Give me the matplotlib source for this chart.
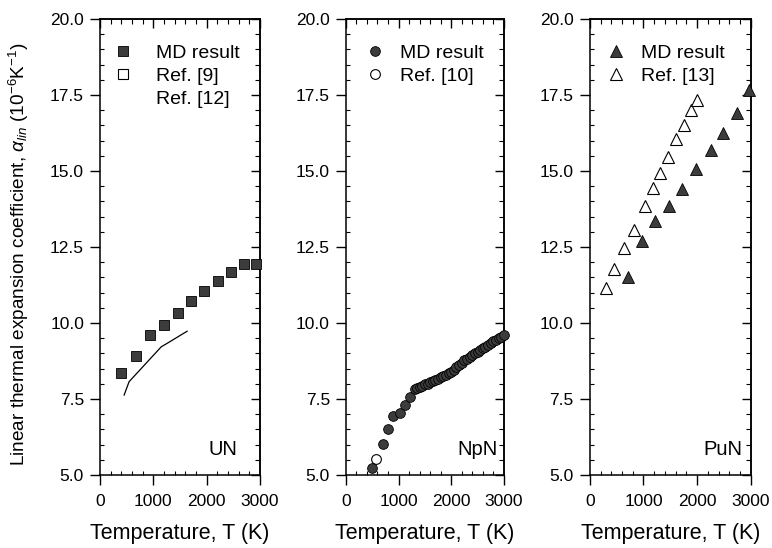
import matplotlib
matplotlib.use("Agg")
import matplotlib.pyplot as plt
from matplotlib.ticker import MultipleLocator, FormatStrFormatter, NullFormatter
from matplotlib.lines import Line2D

plt.rcParams['font.family'] = ['Liberation Sans', 'DejaVu Sans']
plt.rcParams['mathtext.fontset'] = 'custom'
plt.rcParams['mathtext.rm'] = 'Liberation Sans'
plt.rcParams['mathtext.it'] = 'Liberation Sans:italic'

# UN
un_md_T = [385, 671, 932, 1199, 1460, 1714, 1957, 2212, 2460, 2702, 2920]
un_md_a = [8.37, 8.93, 9.60, 9.94, 10.32, 10.72, 11.04, 11.37, 11.68, 11.93, 11.93]
un_ref12_T = [453, 546, 1150, 1230, 1634]
un_ref12_a = [7.63, 8.07, 9.22, 9.30, 9.73]

# NpN
npn_md_T = [491, 701, 797, 904, 1019, 1114, 1223, 1318, 1350, 1400, 1450, 1500,
            1550, 1600, 1650, 1700, 1750, 1800, 1850, 1900, 1950, 2000, 2050,
            2100, 2150, 2200, 2250, 2300, 2350, 2400, 2450, 2500, 2550, 2600,
            2650, 2700, 2750, 2800, 2850, 2900, 2950, 3000]
npn_md_a = [5.22, 6.01, 6.51, 6.94, 7.03, 7.30, 7.56, 7.82, 7.86, 7.90, 7.94, 7.98,
            8.01, 8.05, 8.08, 8.12, 8.17, 8.22, 8.26, 8.30, 8.35, 8.40, 8.47,
            8.55, 8.62, 8.70, 8.77, 8.83, 8.89, 8.95, 9.00, 9.05, 9.11, 9.17,
            9.22, 9.28, 9.34, 9.40, 9.45, 9.50, 9.55, 9.60]
npn_ref10_T = [573]
npn_ref10_a = [5.52]

# PuN
pun_md_T = [706, 969, 1219, 1468, 1718, 1981, 2250, 2488, 2751, 2968]
pun_md_a = [11.52, 12.70, 13.37, 13.86, 14.41, 15.07, 15.69, 16.24, 16.90, 17.66]
pun_ref13_T = [300, 456, 643, 819, 1031, 1187, 1312, 1457, 1600, 1750, 1888, 2000]
pun_ref13_a = [11.16, 11.77, 12.46, 13.05, 13.85, 14.45, 14.94, 15.45, 16.04,
               16.51, 17.01, 17.34]

fill = '#3c3c3c'

fig = plt.figure(figsize=(7.72, 5.48), dpi=100)
ax1 = fig.add_axes([0.1295, 0.1332, 0.2072, 0.832])
ax2 = fig.add_axes([0.448, 0.1332, 0.2047, 0.832])
ax3 = fig.add_axes([0.764, 0.1332, 0.2085, 0.832])

leg_kw = dict(loc='upper left', frameon=False, fontsize=14, handlelength=1.0,
              handletextpad=0.8, labelspacing=0.28, borderaxespad=0.3)

# UN
ax1.plot(un_md_T, un_md_a, 's', ms=6.5, mfc=fill, mec='black', mew=0.6, clip_on=False, zorder=3)
ax1.plot(un_ref12_T, un_ref12_a, '-', color='black', lw=0.9)
h1 = [Line2D([], [], ls='none', marker='s', ms=6.5, mfc=fill, mec='black', mew=0.6),
      Line2D([], [], ls='none', marker='s', ms=6.5, mfc='white', mec='black', mew=0.8),
      Line2D([], [], ls='none', color='none')]
ax1.legend(h1, ['MD result', 'Ref. [9]', 'Ref. [12]'], bbox_to_anchor=(0.0, 0.974),
           **dict(leg_kw, handletextpad=1.2))

# NpN
ax2.plot(npn_md_T, npn_md_a, 'o', ms=7, mfc=fill, mec='black', mew=0.6, clip_on=False, zorder=3)
ax2.plot(npn_ref10_T, npn_ref10_a, 'o', ms=7, mfc='white', mec='black', mew=0.8, zorder=2)
h2 = [Line2D([], [], ls='none', marker='o', ms=7, mfc=fill, mec='black', mew=0.6),
      Line2D([], [], ls='none', marker='o', ms=7, mfc='white', mec='black', mew=0.8)]
ax2.legend(h2, ['MD result', 'Ref. [10]'], bbox_to_anchor=(0.037, 0.974), **leg_kw)

# PuN
ax3.plot(pun_md_T, pun_md_a, '^', ms=8, mfc=fill, mec='black', mew=0.6, clip_on=False, zorder=3)
ax3.plot(pun_ref13_T, pun_ref13_a, '^', ms=8, mfc='white', mec='black', mew=0.8)
h3 = [Line2D([], [], ls='none', marker='^', ms=8, mfc=fill, mec='black', mew=0.6),
      Line2D([], [], ls='none', marker='^', ms=8, mfc='white', mec='black', mew=0.8)]
ax3.legend(h3, ['MD result', 'Ref. [13]'], bbox_to_anchor=(0.019, 0.974), **leg_kw)

for ax, name, xr in [(ax1, 'UN', 0.86), (ax2, 'NpN', 0.96), (ax3, 'PuN', 0.95)]:
    ax.set_xlim(0, 3000)
    ax.set_ylim(5, 20)
    ax.xaxis.set_major_locator(MultipleLocator(1000))
    ax.xaxis.set_minor_locator(MultipleLocator(200))
    ax.yaxis.set_major_locator(MultipleLocator(2.5))
    ax.yaxis.set_minor_locator(MultipleLocator(0.5))
    ax.yaxis.set_major_formatter(FormatStrFormatter('%.1f'))
    # bottom/left: major ticks out, minor in
    ax.tick_params(which='major', direction='out', length=7.5, width=1, labelsize=12.5)
    ax.tick_params(axis='y', which='major', pad=4)
    ax.tick_params(axis='x', which='major', pad=6)
    ax.tick_params(which='minor', direction='in', length=3, width=0.8)
    # top/right: everything in
    top = ax.secondary_xaxis('top')
    top.xaxis.set_major_locator(MultipleLocator(1000))
    top.xaxis.set_minor_locator(MultipleLocator(200))
    top.xaxis.set_major_formatter(NullFormatter())
    top.tick_params(which='major', direction='in', length=6.5, width=1)
    top.tick_params(which='minor', direction='in', length=3.5, width=0.8)
    right = ax.secondary_yaxis('right')
    right.yaxis.set_major_locator(MultipleLocator(2.5))
    right.yaxis.set_minor_locator(MultipleLocator(0.5))
    right.yaxis.set_major_formatter(NullFormatter())
    right.tick_params(which='major', direction='in', length=6.5, width=1)
    right.tick_params(which='minor', direction='in', length=3.5, width=0.8)
    for s in list(ax.spines.values()) + list(top.spines.values()) + list(right.spines.values()):
        s.set_linewidth(1.1)
    ax.set_xlabel('Temperature, T (K)', fontsize=15.5, labelpad=10)
    ax.text(xr, 0.035, name, transform=ax.transAxes, ha='right', va='bottom', fontsize=14.5)

ax1.set_ylabel(r'Linear thermal expansion coefficient, $\alpha_{lin}$ ($10^{-6}$K$^{-1}$)',
               fontsize=13.7)
ax1.yaxis.set_label_coords(-0.43, 0.485)

fig.savefig('out.png', dpi=100)
